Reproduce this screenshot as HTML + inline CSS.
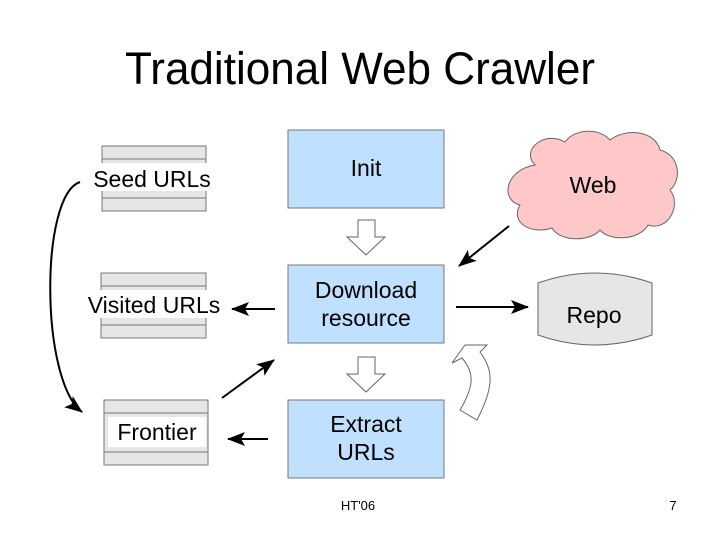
<!DOCTYPE html>
<html><head><meta charset="utf-8"><style>html,body{margin:0;padding:0;background:#fff}svg{display:block}</style></head>
<body>
<svg width="720" height="540" viewBox="0 0 720 540" xmlns="http://www.w3.org/2000/svg" font-family="Liberation Sans, Arial, sans-serif">
<defs>
<marker id="ah2" markerWidth="18" markerHeight="14" refX="17" refY="7" orient="auto" markerUnits="userSpaceOnUse" viewBox="0 0 18 14">
<path d="M0,0 L18,7 L0,14 L4,7 Z" fill="#000"/></marker>
</defs>
<text x="360" y="84" font-size="45" text-anchor="middle" textLength="470" lengthAdjust="spacingAndGlyphs">Traditional Web Crawler</text>

<g fill="#bfe0ff" stroke="#777" stroke-width="1">
<rect x="288" y="130" width="156" height="78"/>
<rect x="288" y="265" width="156" height="78"/>
<rect x="288" y="400" width="156" height="78"/>
</g>
<g font-size="23" text-anchor="middle" fill="#000">
<text x="366" y="176">Init</text>
<text x="366" y="298">Download</text>
<text x="366" y="326">resource</text>
<text x="366" y="432">Extract</text>
<text x="366" y="460">URLs</text>
</g>

<g stroke="#777" stroke-width="1">
<rect x="102" y="146" width="104" height="65" fill="#e6e6e6"/>
<line x1="102" y1="159" x2="206" y2="159"/>
<line x1="102" y1="198" x2="206" y2="198"/>
<rect x="101" y="273" width="105" height="65" fill="#e6e6e6"/>
<line x1="101" y1="286" x2="206" y2="286"/>
<line x1="101" y1="325" x2="206" y2="325"/>
<rect x="104" y="400" width="104" height="65" fill="#e6e6e6"/>
<line x1="104" y1="413" x2="208" y2="413"/>
<line x1="104" y1="452" x2="208" y2="452"/>
</g>
<g fill="#fff">
<rect x="92" y="163" width="122" height="28"/>
<rect x="84" y="290" width="140" height="28"/>
<rect x="108" y="417" width="98" height="30"/>
</g>
<g font-size="23" text-anchor="middle">
<text x="152" y="187">Seed URLs</text>
<text x="154" y="313">Visited URLs</text>
<text x="157" y="440">Frontier</text>
</g>

<path d="M535,165 C520,150 545,130 565,142 C575,128 600,128 610,140 C625,128 655,130 660,150 C680,155 682,180 670,190 C682,205 668,232 648,225 C640,240 610,242 600,230 C590,242 560,242 552,228 C530,235 510,222 520,205 C500,200 505,170 535,165 Z" fill="#ffc8c8" stroke="#666" stroke-width="1"/>
<text x="593" y="193" font-size="23" text-anchor="middle">Web</text>

<path d="M538,283 Q595,263 652,283 L652,335 Q595,355 538,335 Z" fill="#e6e6e6" stroke="#666" stroke-width="1"/>
<text x="594" y="323" font-size="23" text-anchor="middle">Repo</text>

<g fill="#fff" stroke="#666" stroke-width="1">
<path d="M358,220 L375,220 L375,237 L385,237 L366,255 L347,237 L358,237 Z"/>
<path d="M358,357 L375,357 L375,374 L385,374 L366,392 L347,374 L358,374 Z"/>
<path d="M452,363 L465,345 L487,345 L480,352 C493,370 495,385 477,420 L460,410 C475,385 474,372 462,358 Z"/>
</g>

<g stroke="#000" stroke-width="2" fill="none">
<line x1="509" y1="226" x2="459" y2="266" marker-end="url(#ah2)"/>
<line x1="456" y1="307" x2="528" y2="307" marker-end="url(#ah2)"/>
<line x1="275" y1="309" x2="232" y2="309" marker-end="url(#ah2)"/>
<line x1="222" y1="398" x2="274" y2="360" marker-end="url(#ah2)"/>
<line x1="268" y1="439" x2="228" y2="439" marker-end="url(#ah2)"/>
<path d="M80,182 C40,195 40,380 82,412" marker-end="url(#ah2)"/>
</g>

<text x="358" y="510" font-size="13" text-anchor="middle">HT'06</text>
<text x="673" y="510" font-size="13" text-anchor="middle">7</text>
</svg>
</body></html>
